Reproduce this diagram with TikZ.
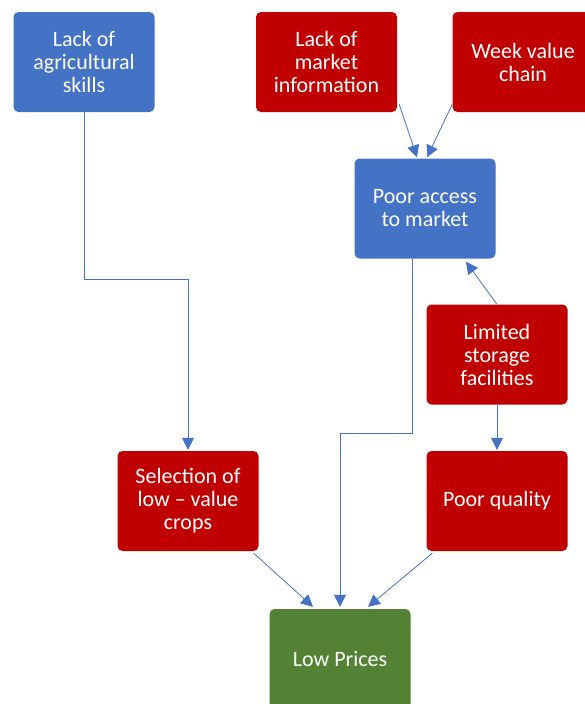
\documentclass[tikz,border=0pt]{standalone}
\usepackage{fontspec}
\setmainfont{Carlito}
\usetikzlibrary{arrows.meta}
\definecolor{boxblue}{HTML}{4472C4}
\definecolor{boxred}{HTML}{C00000}
\definecolor{boxgreen}{HTML}{548235}
\definecolor{linkblue}{HTML}{4472C4}
\begin{document}
\begin{tikzpicture}[x=1pt,y=1pt,
  box/.style={rectangle, rounded corners=5pt, minimum width=141pt, minimum height=100pt,
    inner sep=0pt, text=white, align=center,
    font=\fontsize{22}{23}\selectfont},
  bluebox/.style={box, fill=boxblue},
  redbox/.style={box, fill=boxred},
  greenbox/.style={box, fill=boxgreen},
  link/.style={draw=linkblue, line width=0.8pt, -{Triangle[length=12pt,width=12pt]}}
]
\useasboundingbox (0,0) rectangle (584,-704);
\node[bluebox]  (agri)   at (84,-62)     {Lack of\\agricultural\\skills};
\node[redbox]   (mi)     at (326.5,-62)  {Lack of\\market\\information};
\node[redbox]   (wv)     at (523,-62)    {Week value\\chain};
\node[bluebox]  (access) at (425,-208.5) {Poor access\\to market};
\node[redbox]   (lim)    at (497,-354.5) {Limited\\storage\\facilities};
\node[redbox]   (sel)    at (188,-501)   {Selection of\\low -- value\\crops};
\node[redbox]   (pq)     at (497,-501)   {Poor quality};
\node[greenbox] (low)    at (340,-659)   {Low Prices};

\draw[link] (agri.south) -- ++(0,-167) -| ([yshift=1pt]sel.north);
\draw[link] ([xshift=2pt,yshift=8pt]mi.south east) -- ([xshift=-8pt,yshift=1pt]access.north);
\draw[link] ([yshift=8pt]wv.south west) -- ([xshift=2pt,yshift=1pt]access.north);
\draw[link] (lim.north) -- ([xshift=41pt,yshift=-3pt]access.south);
\draw[link] (lim.south) -- ([yshift=1pt]pq.north);
\draw[link] ([xshift=-13pt]access.south) -- ++(0,-175) -| ([yshift=2pt]low.north);
\draw[link] ([xshift=-5pt,yshift=-2pt]sel.south east) -- ([xshift=-27pt,yshift=2pt]low.north);
\draw[link] ([xshift=6pt,yshift=-2pt]pq.south west) -- ([xshift=28pt,yshift=2pt]low.north);
\end{tikzpicture}
\end{document}
